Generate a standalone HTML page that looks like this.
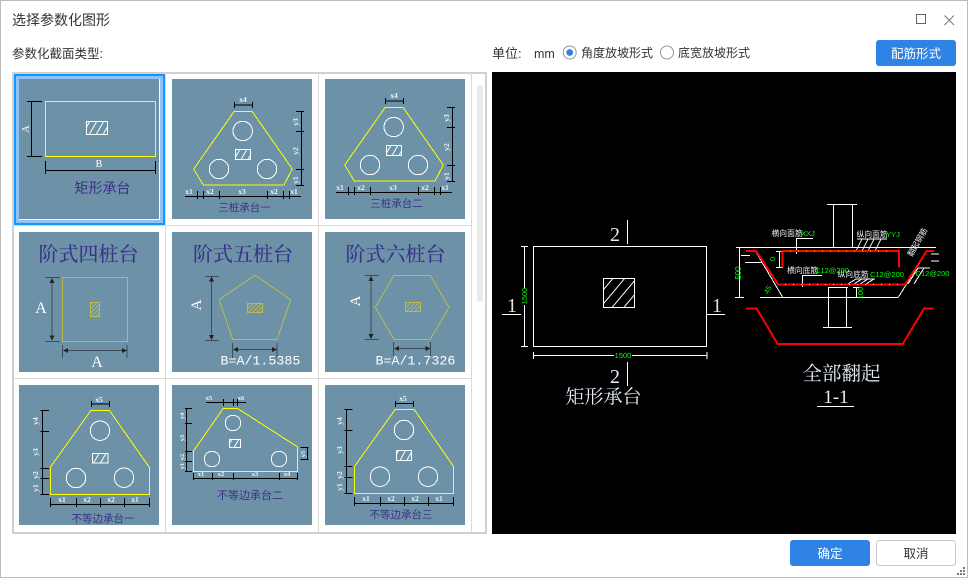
<!DOCTYPE html>
<html lang="zh"><head><meta charset="utf-8"><title>选择参数化图形</title>
<style>
html,body{margin:0;padding:0;background:#fff;width:968px;height:578px;overflow:hidden}
svg{display:block;position:absolute;left:0;top:0}
svg path,svg rect,svg polygon,svg circle{shape-rendering:crispEdges}
.aa{shape-rendering:auto !important}
.ui{font-family:"Liberation Sans","Noto Sans CJK SC",sans-serif;font-size:12px;fill:#333}
.s{font-family:"Liberation Serif","Noto Serif CJK SC",serif}
.d{font-family:"Liberation Serif",serif;font-size:7.5px;fill:#eef4f8;font-weight:bold;text-anchor:middle}
.cap{font-family:"Liberation Sans","Noto Sans CJK SC",sans-serif;font-size:10.5px;fill:#3a3285;text-anchor:middle}
.ttl{font-family:"Liberation Serif","Noto Serif CJK SC",serif;font-size:20px;font-weight:500;fill:#38338a;text-anchor:middle}
.m{font-family:"Liberation Mono",monospace;font-size:13.3px;fill:#fff}
.g{font-family:"Liberation Sans",sans-serif;font-size:7.5px;fill:#0f0;text-anchor:middle}
.w{font-family:"Liberation Sans","Noto Sans CJK SC",sans-serif;font-size:7.8px;fill:#e8eef5}
.cad{font-family:"Liberation Serif","Noto Serif CJK SC",serif;fill:#e6eefa;text-anchor:middle}
.y{fill:none;stroke:#ff0;stroke-width:1}
.ye{fill:none;stroke:#b9bb4b;stroke-width:1}
.k{fill:none;stroke:#000;stroke-width:1}
.kd{fill:none;stroke:#3c4c5c;stroke-width:1}
.c{fill:none;stroke:#fff;stroke-width:1}
.wl{fill:none;stroke:#fff;stroke-width:1}
.r{fill:none;stroke:#f00;stroke-width:2}
</style></head><body>
<svg width="968" height="578" viewBox="0 0 968 578" xmlns="http://www.w3.org/2000/svg">
<defs>
<pattern id="h" patternUnits="userSpaceOnUse" width="6" height="6" patternTransform="rotate(30)"><rect width="1" height="6" fill="#fff"/></pattern>
<pattern id="hy" patternUnits="userSpaceOnUse" width="3" height="3" patternTransform="rotate(45)"><rect width="1" height="3" fill="#b9bb4b"/></pattern>
<pattern id="hb" patternUnits="userSpaceOnUse" width="9" height="9" patternTransform="rotate(40)"><rect width="1" height="9" fill="#fff"/></pattern>
</defs>
<rect x="0.5" y="0.5" width="967" height="577" fill="#fff" stroke="#bdbdbd"/>
<text class="ui" x="12" y="25" style="font-size:14px">选择参数化图形</text>
<text class="ui" x="12" y="58" style="font-size:12.5px">参数化截面类型:</text>
<text class="ui" x="492" y="58" style="font-size:13px">单位:</text>
<text class="ui" x="534" y="58" style="font-size:12.5px">mm</text>
<circle class="aa" cx="569.7" cy="52.5" r="6.5" fill="#fff" stroke="#999"/><circle class="aa" cx="569.7" cy="52.5" r="3.4" fill="#2f83e4"/>
<text class="ui" x="581" y="57">角度放坡形式</text>
<circle class="aa" cx="667" cy="52.5" r="6.5" fill="#fff" stroke="#999"/>
<text class="ui" x="678" y="57">底宽放坡形式</text>
<rect class="aa" x="876" y="40" width="80" height="26" rx="3" fill="#2f83e4"/>
<text class="ui" x="916" y="58" text-anchor="middle" style="fill:#fff;font-size:12.5px">配筋形式</text>
<rect x="916.5" y="14.5" width="9" height="9" fill="none" stroke="#666"/>
<path class="aa" d="M944.5 15.5L954 25M954 15.5L944.5 25" stroke="#777" fill="none"/>

<!-- grid -->
<rect x="13" y="73" width="473" height="460" fill="#fff" stroke="#d0d0d0" stroke-width="1.6"/>
<path d="M165.500 73V532M318.500 73V532M471.500 73V532M13 225.500H471M13 378.500H471" stroke="#d9d9d9" fill="none"/>
<rect class="aa" x="477" y="85" width="6" height="217" rx="3" fill="#ebebeb"/>
<rect x="15" y="75" width="149" height="149" fill="none" stroke="#1296ff" stroke-width="2"/>
<rect x="17.500" y="77.500" width="144" height="144" fill="none" stroke="#8fc3f7" stroke-width="3"/>
<g fill="#6d92a8">
<rect x="19" y="79" width="140" height="140"/><rect x="172" y="79" width="140" height="140"/><rect x="325" y="79" width="140" height="140"/>
<rect x="19" y="232" width="140" height="140"/><rect x="172" y="232" width="140" height="140"/><rect x="325" y="232" width="140" height="140"/>
<rect x="19" y="385" width="140" height="140"/><rect x="172" y="385" width="140" height="140"/><rect x="325" y="385" width="140" height="140"/>
</g>

<!-- tile 1 -->
<rect class="y" x="45.500" y="101.500" width="110" height="55"/>
<rect x="86.500" y="121.500" width="21" height="13" fill="url(#h)" stroke="#fff"/>
<path class="k" d="M31.500 101V156M27 101.500H42M27 156.500H42M45.500 161V174M155.500 161V174M45 170.500H156"/>
<text class="s" transform="translate(29,129) rotate(-90)" font-size="10" fill="#fff" text-anchor="middle">A</text>
<text class="s" x="99" y="167" font-size="10" fill="#fff" text-anchor="middle">B</text>
<text class="cap" x="102.500" y="193" style="font-size:14px">矩形承台</text>

<!-- tile 2 -->
<polygon class="y" points="234,111.700 252.300,111.700 292.300,169 284,185 203.300,185 193.700,169"/>
<circle class="c" cx="242.700" cy="131" r="9.700"/><circle class="c" cx="219" cy="169" r="9.700"/><circle class="c" cx="267" cy="169" r="9.700"/>
<rect x="235.500" y="149.500" width="15" height="10" fill="url(#h)" stroke="#fff"/>
<path class="k" d="M234.500 105H253M234.500 102V108M252.500 102V108M301.500 111.500V185M296 111.500H304M296 131.500H304M296 169.500H304M296 185.500H304M185 196.500H301M197.500 191V199M203.500 191V199M219.500 191V199M267.500 191V199M283.500 191V199M289.500 191V199"/>
<text class="d" x="243" y="102">x4</text><text class="d" x="189" y="194">x1</text><text class="d" x="210" y="194">x2</text><text class="d" x="242" y="194">x3</text><text class="d" x="274" y="194">x2</text><text class="d" x="294" y="194">x1</text>
<text class="d" transform="translate(298,122) rotate(-90)">y3</text><text class="d" transform="translate(298,151) rotate(-90)">y2</text><text class="d" transform="translate(298,180) rotate(-90)">y1</text>
<text class="cap" x="244.500" y="211">三桩承台一</text>

<!-- tile 3 -->
<g transform="translate(151,-4)">
<polygon class="y" points="234,111.700 252.300,111.700 292.300,169 284,185 203.300,185 193.700,169"/>
<path d="M203.300 185H284" stroke="#ff0" stroke-width="1"/>
<circle class="c" cx="242.700" cy="131" r="9.700"/><circle class="c" cx="219" cy="169" r="9.700"/><circle class="c" cx="267" cy="169" r="9.700"/>
<rect x="235.500" y="149.500" width="15" height="10" fill="url(#h)" stroke="#fff"/>
<path class="k" d="M234.500 105H253M234.500 102V108M252.500 102V108M301.500 111.500V185M296 111.500H304M296 131.500H304M296 169.500H304M296 185.500H304M185 196.500H301M197.500 191V199M203.500 191V199M219.500 191V199M267.500 191V199M283.500 191V199M289.500 191V199"/>
<text class="d" x="243" y="102">x4</text><text class="d" x="189" y="194">x1</text><text class="d" x="210" y="194">x2</text><text class="d" x="242" y="194">x3</text><text class="d" x="274" y="194">x2</text><text class="d" x="294" y="194">x1</text>
<text class="d" transform="translate(298,122) rotate(-90)">y3</text><text class="d" transform="translate(298,151) rotate(-90)">y2</text><text class="d" transform="translate(298,180) rotate(-90)">y1</text>
</g>
<text class="cap" x="396.500" y="207">三桩承台二</text>

<!-- tile 4 -->
<text class="ttl" x="88.500" y="261">阶式四桩台</text>
<rect class="ye" x="62.500" y="277.500" width="65" height="64"/>
<rect x="90.500" y="302.500" width="9" height="14" fill="url(#hy)" stroke="#b9bb4b"/>
<path class="kd" d="M52 279V340M45.500 277.500H60M45.500 341.500H60M62.500 345V358M127 345V358M64 350.500H126"/>
<path class="aa" d="M52 278l-2.500 5h5zM52 340.500l-2.500-5h5zM63 350.500l5-2.500v5zM127 350.500l-5-2.500v5z" fill="#222"/>
<text class="s" x="41" y="313" font-size="16" fill="#fff" text-anchor="middle">A</text>
<text class="s" x="97" y="367" font-size="16" fill="#fff" text-anchor="middle">A</text>

<!-- tile 5 -->
<text class="ttl" x="243" y="261">阶式五桩台</text>
<polygon class="ye" points="255,275.300 290.700,299.700 277,339.300 232.700,339.300 219,299.700"/>
<rect x="247.500" y="303.500" width="15" height="9" fill="url(#hy)" stroke="#b9bb4b"/>
<path class="kd" d="M211.500 277V339M205 276.500H219M205 340.500H219M232.500 343V358M277 343V358M234 349.500H276"/>
<path class="aa" d="M211.500 276.500l-2.500 5h5zM211.500 340l-2.500-5h5zM233 349.500l5-2.500v5zM277 349.500l-5-2.500v5z" fill="#222"/>
<text class="s" transform="translate(201,305) rotate(-90)" font-size="15" fill="#fff" text-anchor="middle">A</text>
<text class="m" x="220.500" y="364.700">B=A/1.5385</text>

<!-- tile 6 -->
<text class="ttl" x="395.500" y="261">阶式六桩台</text>
<polygon class="ye" points="394,275.300 430.300,275.300 449,307.300 430.300,339.300 394,339.300 375.300,307.300"/>
<rect x="405.500" y="302.500" width="15" height="9" fill="url(#hy)" stroke="#b9bb4b"/>
<path class="kd" d="M371 277V339M364.500 275.500H379M364.500 339.500H379M393.500 342V356M430.500 342V356M395 348.500H429"/>
<path class="aa" d="M371 276l-2.500 5h5zM371 339l-2.500-5h5zM394 348.500l5-2.500v5zM430.500 348.500l-5-2.500v5z" fill="#222"/>
<text class="s" transform="translate(360,301) rotate(-90)" font-size="15" fill="#fff" text-anchor="middle">A</text>
<text class="m" x="375.500" y="364.700">B=A/1.7326</text>

<!-- tile 7 -->
<polygon class="y" points="91,410.300 109.300,410.300 149.300,467.300 149.300,494.300 50.300,494.300 50.300,467.300"/>
<circle class="c" cx="100" cy="430.700" r="9.700"/><circle class="c" cx="76" cy="478" r="9.700"/><circle class="c" cx="124" cy="477.700" r="9.700"/>
<rect x="92.500" y="453.500" width="15.500" height="9.500" fill="url(#h)" stroke="#fff"/>
<path class="k" d="M91.500 404H109.500M91.500 401V407M109.500 401V407M42.500 410V494.500M40.500 410.500H49M40.500 431.500H49M40.500 468.500H49M40.500 478.500H49M40.500 494.500H49M50.500 504.500H149.500M50.500 498V507M76.500 498V507M100.500 498V507M124.500 498V507M149.500 498V507"/>
<text class="d" x="99" y="402">x5</text><text class="d" x="62" y="502">x1</text><text class="d" x="87" y="502">x2</text><text class="d" x="111" y="502">x2</text><text class="d" x="135" y="502">x1</text>
<text class="d" transform="translate(38,421) rotate(-90)">y4</text><text class="d" transform="translate(38,452) rotate(-90)">y3</text><text class="d" transform="translate(38,475) rotate(-90)">y2</text><text class="d" transform="translate(38,488) rotate(-90)">y1</text>
<text class="cap" x="103" y="522">不等边承台一</text>

<!-- tile 8 -->
<polygon class="y" points="223.300,408.300 237.300,408.300 297.700,447 297.700,471.300 193.700,471.300 193.700,450.700"/>
<circle class="c" cx="233" cy="423" r="7.700"/><circle class="c" cx="212" cy="459" r="7.700"/><circle class="c" cx="279" cy="459" r="7.700"/>
<rect x="229.500" y="439.500" width="11" height="8" fill="url(#h)" stroke="#fff"/>
<path class="k" d="M206 402.500H246M223.500 399V406M233.500 399V406M237.500 399V406M186.500 408V471.500M185 408.500H192M185 423.500H192M185 451.500H192M185 461.500H192M185 471.500H192M307.500 447.500V459.500M300.500 447.500H308.500M300.500 459.500H308.500M193.500 478.500H298M193.500 473V480M212.500 473V480M233.500 473V480M279.500 473V480M297.500 473V480"/>
<text class="d" x="209" y="400" style="font-size:6.500px">x5</text><text class="d" x="241" y="400" style="font-size:6.500px">x6</text>
<text class="d" x="201" y="476" style="font-size:6.500px">x1</text><text class="d" x="221" y="476" style="font-size:6.500px">x2</text><text class="d" x="255" y="476" style="font-size:6.500px">x3</text><text class="d" x="287" y="476" style="font-size:6.500px">x4</text>
<text class="d" transform="translate(184,416) rotate(-90)" style="font-size:6.500px">y4</text><text class="d" transform="translate(184,438) rotate(-90)" style="font-size:6.500px">y3</text><text class="d" transform="translate(184,457) rotate(-90)" style="font-size:6.500px">y2</text><text class="d" transform="translate(184,466) rotate(-90)" style="font-size:6.500px">y1</text>
<text class="d" transform="translate(305,454) rotate(-90)" style="font-size:6.500px">y5</text>
<text class="cap" x="250" y="499" style="font-size:11px">不等边承台二</text>

<!-- tile 9 -->
<polygon class="y" points="395.300,409.300 414,409.300 453.700,466.700 453.700,493.300 354.300,493.300 354.300,466.700"/>
<circle class="c" cx="404" cy="430" r="9.700"/><circle class="c" cx="380" cy="476.700" r="9.700"/><circle class="c" cx="428" cy="476.700" r="9.700"/>
<rect x="396.500" y="450.500" width="15" height="10" fill="url(#h)" stroke="#fff"/>
<path class="k" d="M395.500 403.500H413.500M395.500 401V407M413.500 401V407M346.500 409V493.500M344.500 409.500H352.500M344.500 430.500H352.500M344.500 466.500H352.500M344.500 477.500H352.500M344.500 493.500H352.500M354.500 503.500H453.500M354.500 497V506M380.500 497V506M404.500 497V506M428.500 497V506M453.500 497V506"/>
<text class="d" x="403" y="401">x5</text><text class="d" x="366" y="501">x1</text><text class="d" x="391" y="501">x2</text><text class="d" x="415" y="501">x2</text><text class="d" x="439" y="501">x1</text>
<text class="d" transform="translate(342,421) rotate(-90)">y4</text><text class="d" transform="translate(342,450) rotate(-90)">y3</text><text class="d" transform="translate(342,475) rotate(-90)">y2</text><text class="d" transform="translate(342,487) rotate(-90)">y1</text>
<text class="cap" x="401" y="518">不等边承台三</text>

<!-- black pane -->
<rect x="492" y="72" width="464" height="462" fill="#000"/>
<rect class="wl" x="533.500" y="246.500" width="173" height="100"/>
<rect x="603.500" y="278.500" width="31" height="29" fill="url(#hb)" stroke="#fff"/>
<path class="wl" d="M627.500 220V244M627.500 362V386M502 314.500H521M707 314.500H725M524.500 246V346M521 246.500H528M521 346.500H528M533.500 355.500H707M533.500 352V359M707 352V359"/>
<rect x="520" y="288" width="8" height="17" fill="#000"/><rect x="614" y="351" width="18" height="8" fill="#000"/>
<text class="g" transform="translate(527,296) rotate(-90)">1500</text>
<text class="g" x="623" y="358">1500</text>
<text class="cad" x="615" y="241" font-size="20">2</text>
<text class="cad" x="615" y="383" font-size="20">2</text>
<text class="cad" x="512" y="312" font-size="20" style="fill:#f2e2cc">1</text>
<text class="cad" x="717" y="312" font-size="20" style="fill:#cfe6ff">1</text>
<text class="cad" x="603.500" y="403" font-size="19">矩形承台</text>
<text class="cad" x="841.500" y="380" font-size="19.500">全部翻起</text>
<text class="cad" x="836" y="403" font-size="19">1-1</text>
<path class="wl" d="M817 406.500H854"/>

<!-- section -->
<path class="wl" d="M736 247.500H936M833.500 204V247M852.500 204V247M827 204.500H857M739.500 247V297M735 297.500H744M741 255.500H750M745 262.500H763M756 252L782.700 297.300M760 297.500H898M898.300 297.300L926.700 251.700M828.500 288V328M846.500 288V328M828 287.500H848M823 327.500H852M779.500 251V268M776 251.500H783M776 267.500H783M856.500 288V297M853 287.500H860M796.500 238V254M796.500 238.500H813M802.500 275V287M802.500 275.500H822M857 239H887M856 251L862 239M862 251L868 239M868 251L874 239M875 251L881 239M848 284L856 279M854 284L862 279M860 284L868 279M866 284L874 279M856 279H875M908 284L918 268M914 284L924 268M918 268H930M931 254H939M931 261H939"/>
<path class="r" d="M746 251H756L778.300 284.700H905L926.700 251H934"/>
<path class="r" d="M782.700 267.700V251H899V267.700"/>
<path class="r" d="M746 308.700H756.700L777.700 344H902.700L924 308.700H933.300"/>
<path d="M790 251h100M785 284.700h115" stroke="#ff0" stroke-width="1" stroke-dasharray="1 7" fill="none"/>
<text class="w" x="771.500" y="236">横向面筋</text><text class="g" x="808" y="236">XXJ</text>
<text class="w" x="856.500" y="237">纵向面筋</text><text class="g" x="893" y="237">YYJ</text>
<text class="w" x="787" y="273">横向底筋</text><text class="g" x="832" y="273">C12@200</text>
<text class="w" x="837.500" y="277">纵向底筋</text><text class="g" x="887" y="277">C12@200</text>
<text class="g" x="932.500" y="276">C12@200</text>
<text class="w" transform="translate(912,257) rotate(-60)">翻起钢筋</text>
<text class="g" transform="translate(741,273) rotate(-90)" style="font-size:8px">500</text>
<text class="g" transform="translate(775,259) rotate(-90)">0</text>
<text class="g" transform="translate(863,293) rotate(-90)">100</text>
<text class="g" transform="translate(770,291) rotate(-60)">45</text>

<!-- footer -->
<rect class="aa" x="790" y="540" width="80" height="26" rx="3" fill="#2f83e4"/>
<text class="ui" x="830" y="558" text-anchor="middle" style="fill:#fff;font-size:12.5px">确定</text>
<rect class="aa" x="876.500" y="540.500" width="79" height="25" rx="3" fill="#fff" stroke="#c8c8c8"/>
<text class="ui" x="916" y="558" text-anchor="middle" style="font-size:12.5px">取消</text>
<g fill="#777"><rect x="963" y="567" width="2" height="2"/><rect x="960" y="570" width="2" height="2"/><rect x="963" y="570" width="2" height="2"/><rect x="957" y="573" width="2" height="2"/><rect x="960" y="573" width="2" height="2"/><rect x="963" y="573" width="2" height="2"/></g>
</svg>
</body></html>
